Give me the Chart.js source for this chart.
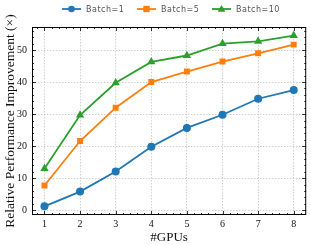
<!DOCTYPE html>
<html>
<head>
<meta charset="utf-8">
<script src="https://cdn.jsdelivr.net/npm/chart.js@4"></script>
<style>
  html, body { margin: 0; padding: 0; background: #fff; }
  #wrap { width: 311px; height: 245px; }
</style>
</head>
<body>
<div id="wrap"><canvas id="chart"></canvas></div>
<script>
/* GPU scaling chart */

const gpus = [1, 2, 3, 4, 5, 6, 7, 8];
const batch1 = [1.2, 5.8, 12.1, 19.8, 25.7, 29.8, 34.8, 37.5];
const batch5 = [7.7, 21.6, 32.0, 40.0, 43.3, 46.4, 49.0, 51.7];
const batch10 = [13.0, 29.7, 39.8, 46.3, 48.3, 52.0, 52.7, 54.5];
const seriesLabels = ['Batch=1', 'Batch=5', 'Batch=10'];
const yTicks = [0, 10, 20, 30, 40, 50];

const COLORS = ['#1f77b4', '#ff7f0e', '#2ca02c'];
const SHAPES = ['circle', 'rect', 'triangle'];
const SERIF = '"Liberation Serif", "DejaVu Serif", serif';

const toPts = (arr) => arr.map((v, i) => ({ x: gpus[i], y: v }));

/* ---- Plugin: inward major/minor ticks on all four sides ---- */
const innerTicksPlugin = {
  id: 'innerTicks',
  afterDatasetsDraw(chart) {
    const { ctx, chartArea: a, scales } = chart;
    ctx.save();
    ctx.strokeStyle = '#000';
    ctx.lineWidth = 0.8;
    ctx.beginPath();
    // x: major every 1, minor every 0.2
    for (let k = 0; k <= 45; k++) {
      const v = Math.round((0.6 + k * 0.2) * 10) / 10;
      const x = Math.round(scales.x.getPixelForValue(v)) + 0.5;
      if (x < a.left || x > a.right) continue;
      const len = Number.isInteger(v) ? 4 : 2;
      ctx.moveTo(x, a.bottom); ctx.lineTo(x, a.bottom - len);
      ctx.moveTo(x, a.top); ctx.lineTo(x, a.top + len);
    }
    // y: major every 10, minor every 2
    for (let v = -2; v <= 58; v += 2) {
      const y = Math.round(scales.y.getPixelForValue(v)) + 0.5;
      if (y < a.top || y > a.bottom) continue;
      const len = v % 10 === 0 ? 4 : 2;
      ctx.moveTo(a.left, y); ctx.lineTo(a.left + len, y);
      ctx.moveTo(a.right, y); ctx.lineTo(a.right - len, y);
    }
    ctx.stroke();
    ctx.lineWidth = 1;
    ctx.strokeRect(a.left + 0.5, a.top + 0.5, a.right - a.left - 1, a.bottom - a.top - 1);
    ctx.restore();
  },
};

/* ---- Plugin: legend with line + marker swatches ---- */
const lineLegendPlugin = {
  id: 'lineLegend',
  afterDraw(chart) {
    const { ctx } = chart;
    const starts = [62, 137, 212];
    const y = 9;
    ctx.save();
    chart.data.datasets.forEach((ds, i) => {
      const x0 = starts[i];
      ctx.strokeStyle = ds.borderColor;
      ctx.lineWidth = 1.8;
      ctx.beginPath();
      ctx.moveTo(x0, y); ctx.lineTo(x0 + 19, y);
      ctx.stroke();
      ctx.fillStyle = ds.borderColor;
      const cx = x0 + 9.5;
      ctx.beginPath();
      if (SHAPES[i] === 'circle') ctx.arc(cx, y, 3.3, 0, Math.PI * 2);
      else if (SHAPES[i] === 'rect') ctx.rect(cx - 3.2, y - 3.2, 6.4, 6.4);
      else { ctx.moveTo(cx, y - 4); ctx.lineTo(cx + 3.8, y + 2.8); ctx.lineTo(cx - 3.8, y + 2.8); ctx.closePath(); }
      ctx.fill();
      ctx.fillStyle = '#555';
      ctx.font = '8px "DejaVu Sans", sans-serif';
      ctx.textBaseline = 'middle';
      ctx.textAlign = 'left';
      if ('letterSpacing' in ctx) ctx.letterSpacing = '0.5px';
      ctx.fillText(ds.label, x0 + 24, y + 0.5);
    });
    ctx.restore();
  },
};

const series = [batch1, batch5, batch10];
const datasets = series.map((vals, i) => ({
  label: seriesLabels[i],
  data: toPts(vals),
  borderColor: COLORS[i],
  backgroundColor: COLORS[i],
  borderWidth: 1.8,
  pointStyle: SHAPES[i],
  pointRadius: i === 1 ? 4.2 : (i === 2 ? 4.8 : 4),
  pointBorderWidth: 0,
  tension: 0,
}));

new Chart(document.getElementById('chart'), {
  type: 'line',
  data: { datasets },
  options: {
    responsive: true, maintainAspectRatio: false, animation: false,
    layout: { padding: { top: 27, right: 4, left: 0, bottom: 0 } },
    plugins: { legend: { display: false }, tooltip: { enabled: false } },
    scales: {
      x: {
        type: 'linear', min: 0.65, max: 8.35,
        afterBuildTicks: (s) => { s.ticks = gpus.map((v) => ({ value: v })); },
        afterFit: (s) => { s.height = 30; },
        grid: { color: '#bdbdbd', lineWidth: 0.7, drawTicks: false },
        border: { display: false, dash: [1.5, 1.5] },
        ticks: { color: '#111', font: { family: SERIF, size: 10 }, padding: 3, maxRotation: 0 },
        title: { display: true, text: '#GPUs', color: '#111', font: { family: SERIF, size: 13 }, padding: { top: 0, bottom: 0 } },
      },
      y: {
        type: 'linear', min: -1.5, max: 57.2,
        afterBuildTicks: (s) => { s.ticks = yTicks.map((v) => ({ value: v })); },
        afterFit: (s) => { s.width = 32; },
        grid: { color: '#bdbdbd', lineWidth: 0.7, drawTicks: false },
        border: { display: false, dash: [1.5, 1.5] },
        ticks: { color: '#111', font: { family: SERIF, size: 10 }, padding: 5 },
        title: { display: true, text: 'Relative Performance Improvement (×)', color: '#111', font: { family: SERIF, size: 13.5 }, padding: { top: 2, bottom: 0 } },
      },
    },
  },
  plugins: [innerTicksPlugin, lineLegendPlugin],
});
</script>
</body>
</html>
